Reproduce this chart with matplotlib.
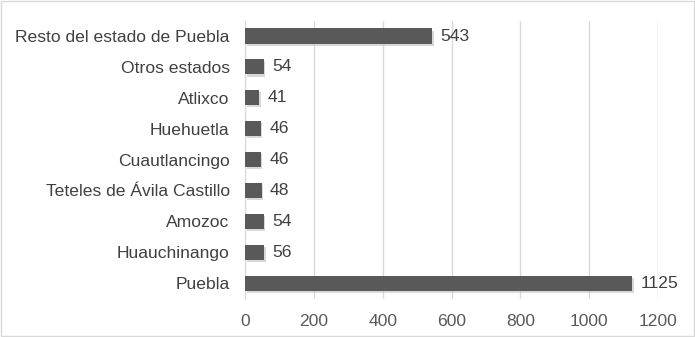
import matplotlib.pyplot as plt
import matplotlib.patheffects as pe
from matplotlib.patches import Rectangle

plt.rcParams['font.family'] = ['Liberation Sans', 'DejaVu Sans']

municipios = ['Puebla', 'Huauchinango', 'Amozoc', 'Teteles de Ávila Castillo',
              'Cuautlancingo', 'Huehuetla', 'Atlixco', 'Otros estados',
              'Resto del estado de Puebla']
valores = [1125, 56, 54, 48, 46, 46, 41, 54, 543]
ticks_x = [0, 200, 400, 600, 800, 1000, 1200]

gris = '#595959'
fs = 12.6

fig = plt.figure(figsize=(6.95, 3.37), dpi=100)
ax = fig.add_axes([0.3525, 0.114, 0.5943, 0.825])

ypos = range(len(municipios))
barras = ax.barh(ypos, valores, height=0.49, color=gris, zorder=3)
for b in barras:
    b.set_path_effects([pe.SimplePatchShadow(offset=(1.2, -1.5), shadow_rgbFace='#bfbfbf', alpha=0.6), pe.Normal()])

for y, v in zip(ypos, valores):
    ax.annotate(str(v), (v, y), xytext=(6, 0), textcoords='offset points',
                va='center', ha='left', fontsize=fs, color='#404040')

ax.set_xlim(0, 1200)
ax.set_ylim(-0.5, len(municipios) - 0.5)
ax.set_xticks(ticks_x)
ax.set_yticks(list(ypos))
ax.set_yticklabels(municipios)
ax.grid(axis='x', color='#d9d9d9', linewidth=1, zorder=0)
for s in ['top', 'right', 'bottom']:
    ax.spines[s].set_visible(False)
ax.spines['left'].set_color('#d9d9d9')
ax.tick_params(axis='y', length=0, pad=11, labelsize=fs, labelcolor='#404040')
ax.tick_params(axis='x', length=0, pad=11, labelsize=fs, labelcolor='#595959')

# marco exterior del gráfico
fig.patches.append(Rectangle((0.002, 0.003), 0.996, 0.994, transform=fig.transFigure,
                             fill=False, edgecolor='#d9d9d9', linewidth=1))

fig.savefig('out.png', dpi=100)
